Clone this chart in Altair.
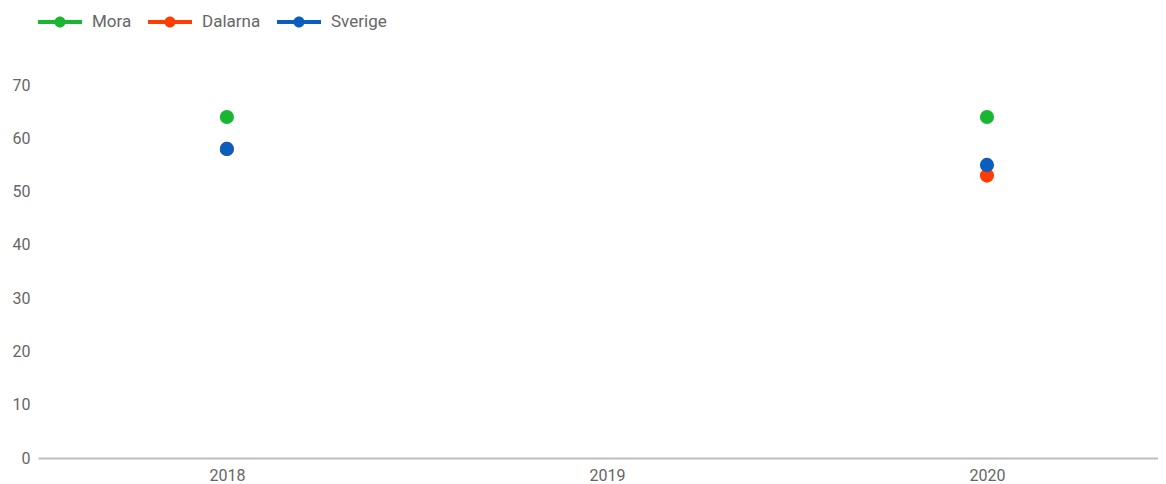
import altair as alt
import pandas as pd

years = [2018, 2020]
series_names = ["Mora", "Dalarna", "Sverige"]
mora = [64, 64]
dalarna = [58, 53]
sverige = [58, 55]
colors = ["#19b631", "#ff3d00", "#0a5ebd"]
y_ticks = [0, 10, 20, 30, 40, 50, 60, 70]
x_ticks = [2018, 2019, 2020]

rows = []
for name, vals in zip(series_names, [mora, dalarna, sverige]):
    for yr, v in zip(years, vals):
        rows.append({"year": yr, "series": name, "value": v})
df = pd.DataFrame(rows)

legend_symbol = (
    "M-1,-0.09 L1,-0.09 L1,0.09 L-1,0.09 Z "
    "M0.25,0 A0.25,0.25 0 1,1 -0.25,0 A0.25,0.25 0 1,1 0.25,0 Z"
)

chart = alt.Chart(df).mark_circle(size=200, opacity=1).encode(
    x=alt.X(
        "year:Q",
        scale=alt.Scale(domain=[2017.503, 2020.45], nice=False, zero=False),
        axis=alt.Axis(
            values=x_ticks, format="d", title=None, grid=False, ticks=False,
            domainColor="#bdbdbd", domainWidth=2, labelPadding=9,
            labelFont="Roboto", labelFontSize=16, labelColor="#666666",
        ),
    ),
    y=alt.Y(
        "value:Q",
        scale=alt.Scale(domain=[0, 70], nice=False),
        axis=alt.Axis(
            values=y_ticks, title=None, grid=False, ticks=False, domain=False,
            labelPadding=8, labelFont="Roboto", labelFontSize=16, labelColor="#666666",
        ),
    ),
    color=alt.Color(
        "series:N",
        scale=alt.Scale(domain=series_names, range=colors),
        sort=series_names,
        legend=alt.Legend(
            title=None, orient="none", direction="horizontal",
            legendX=0, legendY=-85,
            symbolType=legend_symbol, symbolSize=1936, symbolStrokeWidth=0,
            symbolOpacity=1,
            labelFont="Roboto", labelFontSize=17, labelColor="#666666",
            labelOffset=10, columnPadding=16,
        ),
    ),
    order=alt.Order("order:Q"),
).transform_calculate(
    order="indexof(['Mora','Dalarna','Sverige'], datum.series)"
).properties(
    width=1120,
    height=373,
    autosize=alt.AutoSizeParams(type="none"),
    padding={"left": 30, "top": 77, "right": 0, "bottom": 26},
).configure_view(stroke=None)

chart.save("out.html", embed_options={"renderer": "svg", "actions": False})
